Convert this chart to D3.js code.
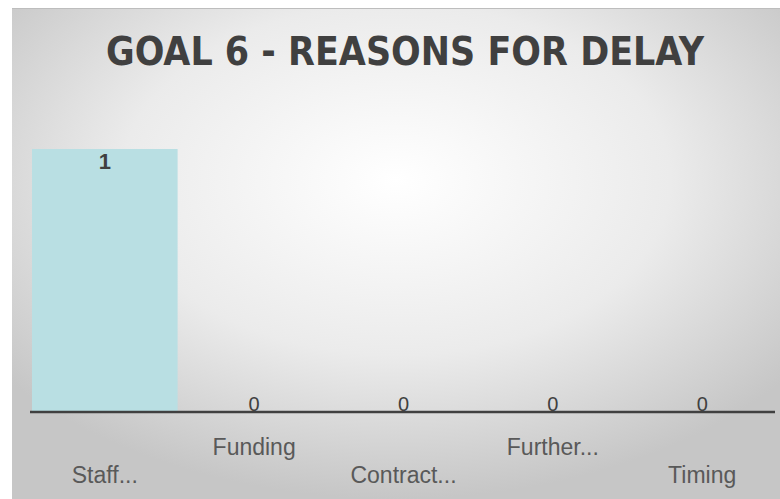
<!DOCTYPE html>
<html>
<head>
<meta charset="utf-8">
<script src="https://cdn.jsdelivr.net/npm/d3@7"></script>
<style>
  body { margin: 0; background: #fff; }
  svg { display: block; }
</style>
</head>
<body>
<svg></svg>
<script>
var categories = ["Staff...", "Funding", "Contract...", "Further...", "Timing"];
var values = [1, 0, 0, 0, 0];
var title = "GOAL 6 - REASONS FOR DELAY";

var width = 780;
var height = 499;
var svg = d3.select("svg")
    .attr("width", width)
    .attr("height", height);

var defs = svg.append("defs");
var grad = defs.append("radialGradient")
    .attr("id", "bg")
    .attr("cx", "50%").attr("cy", "35%")
    .attr("r", "65%");
grad.append("stop").attr("offset", "0%").attr("stop-color", "#ffffff");
grad.append("stop").attr("offset", "55%").attr("stop-color", "#ebebeb");
grad.append("stop").attr("offset", "100%").attr("stop-color", "#c6c6c6");

svg.append("rect")
    .attr("x", 12).attr("y", 8)
    .attr("width", width - 12).attr("height", height - 8)
    .attr("fill", "url(#bg)");
svg.append("line")
    .attr("x1", 12).attr("x2", width)
    .attr("y1", 8.5).attr("y2", 8.5)
    .attr("stroke", "#bdbdbd");

svg.append("text")
    .attr("x", 405).attr("y", 65)
    .attr("text-anchor", "middle")
    .attr("font-family", "DejaVu Sans Condensed, DejaVu Sans")
    .attr("font-stretch", "condensed")
    .attr("font-weight", "bold")
    .attr("font-size", 39)
    .attr("fill", "#404040")
    .attr("textLength", 598)
    .attr("lengthAdjust", "spacingAndGlyphs")
    .text(title);

var x = d3.scaleBand()
    .domain(categories)
    .range([31, 774])
    .paddingInner(0.025)
    .paddingOuter(0.0);

var y = d3.scaleLinear()
    .domain([0, 1])
    .range([412, 149]);

var bars = svg.append("g");
bars.selectAll("rect")
    .data(values)
    .enter().append("rect")
    .attr("x", (d, i) => x(categories[i]) + 1)
    .attr("width", x.bandwidth())
    .attr("y", d => y(d))
    .attr("height", d => y(0) - y(d))
    .attr("fill", "#b9dfe3");

svg.append("line")
    .attr("x1", 30).attr("x2", 775)
    .attr("y1", y(0)).attr("y2", y(0))
    .attr("stroke", "#404040")
    .attr("stroke-width", 2.5);

bars.selectAll("text.val")
    .data(values)
    .enter().append("text")
    .attr("class", "val")
    .attr("x", (d, i) => x(categories[i]) + x.bandwidth() / 2 + 1)
    .attr("y", d => d > 0 ? y(d) + 20 : y(0) - 1)
    .attr("text-anchor", "middle")
    .attr("font-family", "Liberation Sans, Arial, sans-serif")
    .attr("font-weight", d => d > 0 ? "bold" : "normal")
    .attr("font-size", d => d > 0 ? 22 : 20)
    .attr("fill", "#404040")
    .text(d => d);

var axis = svg.append("g");
axis.selectAll("text")
    .data(categories)
    .enter().append("text")
    .attr("x", d => x(d) + x.bandwidth() / 2 + 1)
    .attr("y", (d, i) => i % 2 === 0 ? 483 : 455)
    .attr("text-anchor", "middle")
    .attr("font-family", "Liberation Sans, Arial, sans-serif")
    .attr("font-size", 23)
    .attr("fill", "#595959")
    .text(d => d);
</script>
</body>
</html>
